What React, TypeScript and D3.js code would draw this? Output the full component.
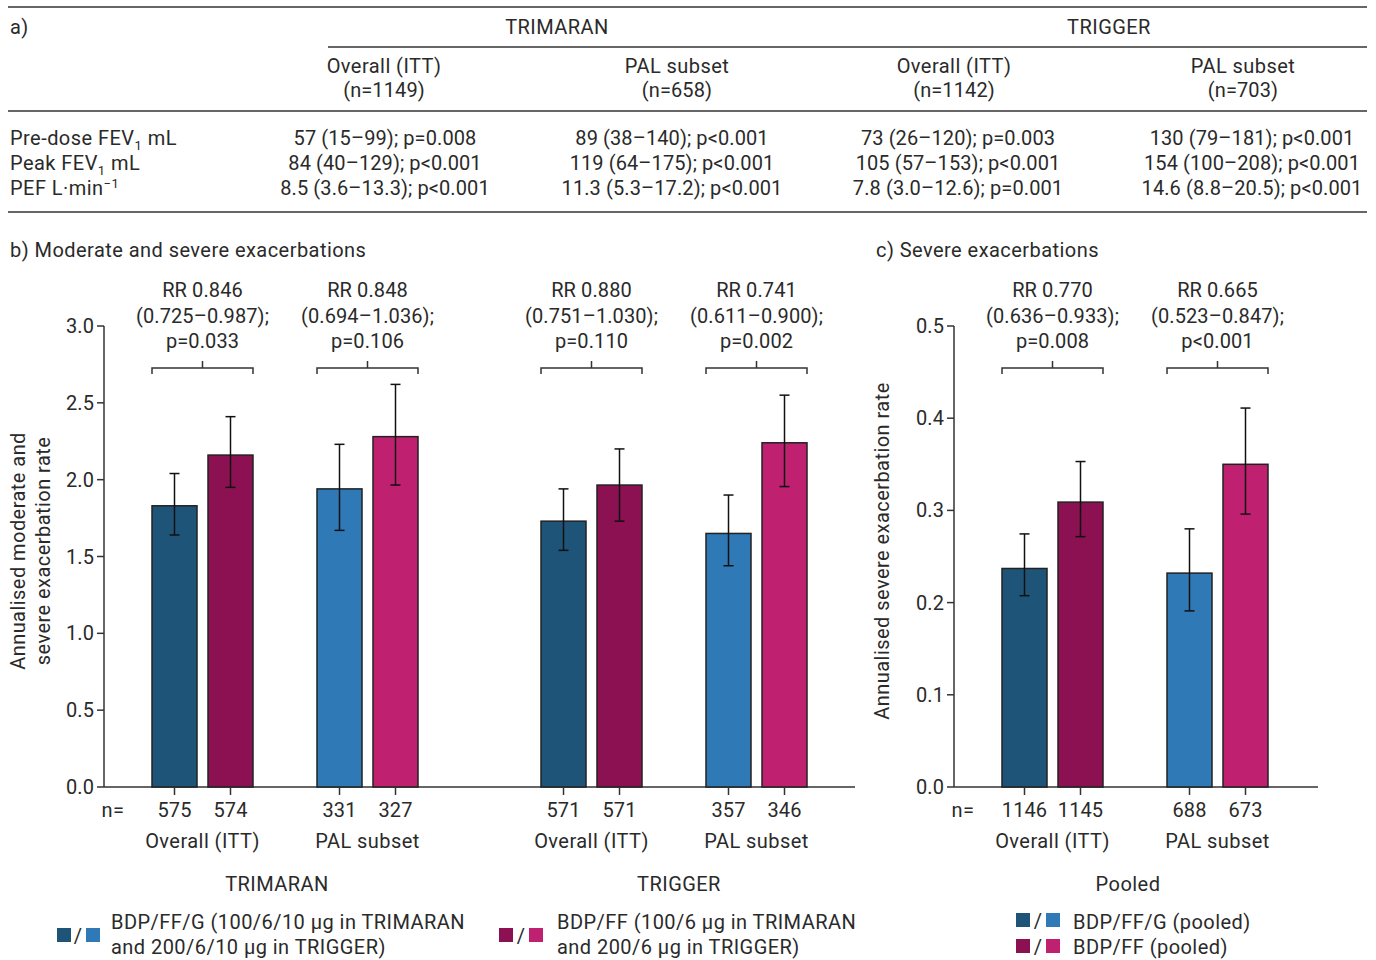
import React from "react";
import * as d3 from "d3";

// ---------- DATA ----------
const studies = ["TRIMARAN", "TRIGGER"];
const subsets = ["Overall (ITT)", "PAL subset"];
const tableCols = ["Overall (ITT)", "PAL subset", "Overall (ITT)", "PAL subset"];
const tableNs = ["(n=1149)", "(n=658)", "(n=1142)", "(n=703)"];
const rowPreDose = ["57 (15–99); p=0.008", "89 (38–140); p<0.001", "73 (26–120); p=0.003", "130 (79–181); p<0.001"];
const rowPeak = ["84 (40–129); p<0.001", "119 (64–175); p<0.001", "105 (57–153); p<0.001", "154 (100–208); p<0.001"];
const rowPEF = ["8.5 (3.6–13.3); p<0.001", "11.3 (5.3–17.2); p<0.001", "7.8 (3.0–12.6); p=0.001", "14.6 (8.8–20.5); p<0.001"];

// Panel b: order = TRIMARAN ITT, TRIMARAN PAL, TRIGGER ITT, TRIGGER PAL
const tripleRateB = [1.83, 1.94, 1.73, 1.65];
const tripleLoB = [1.64, 1.67, 1.54, 1.44];
const tripleHiB = [2.04, 2.23, 1.94, 1.9];
const dualRateB = [2.16, 2.28, 1.965, 2.24];
const dualLoB = [1.95, 1.965, 1.73, 1.955];
const dualHiB = [2.41, 2.62, 2.2, 2.55];
const nTripleB = [575, 331, 571, 357];
const nDualB = [574, 327, 571, 346];
const rrB = ["RR 0.846", "RR 0.848", "RR 0.880", "RR 0.741"];
const ciB = ["(0.725–0.987);", "(0.694–1.036);", "(0.751–1.030);", "(0.611–0.900);"];
const pB = ["p=0.033", "p=0.106", "p=0.110", "p=0.002"];
const ticksB = [0, 0.5, 1.0, 1.5, 2.0, 2.5, 3.0];

// Panel c: order = ITT, PAL (pooled)
const tripleRateC = [0.237, 0.232];
const tripleLoC = [0.2075, 0.191];
const tripleHiC = [0.2745, 0.28];
const dualRateC = [0.309, 0.35];
const dualLoC = [0.2715, 0.296];
const dualHiC = [0.353, 0.411];
const nTripleC = [1146, 688];
const nDualC = [1145, 673];
const rrC = ["RR 0.770", "RR 0.665"];
const ciC = ["(0.636–0.933);", "(0.523–0.847);"];
const pC = ["p=0.008", "p<0.001"];
const ticksC = [0, 0.1, 0.2, 0.3, 0.4, 0.5];

// ---------- STYLE ----------
const FONT = "Roboto, 'Noto Sans', sans-serif";
const TXT = "#2a2a2a";
const AX = "#333";
const C_TRIPLE = ["#1f5479", "#2e79b6"];
const C_DUAL = ["#8b1152", "#c02070"];

const W = 1376;
const H = 960;

const base = 787;
const top = 326;
const yB = d3.scaleLinear().domain([0, 3]).range([base, top]);
const yC = d3.scaleLinear().domain([0, 0.5]).range([base, top]);

const studyX = d3.scaleLinear().domain([0, 1]).range([285, 674]);
const subsetOff = 165;
const trtOff = 56;
const barW = 45;

function groupCenterB(i: number) {
  const s = Math.floor(i / 2);
  const g = i % 2;
  return studyX(s) + (g - 0.5) * subsetOff;
}
function groupCenterC(i: number) {
  return 1135 + (i - 0.5) * subsetOff;
}

// word text (slightly wider tracking) and numeric text
function T(props: any) {
  return <text fontFamily={FONT} fontSize={20} fill={TXT} letterSpacing={0.45} {...props} />;
}
function N(props: any) {
  return <text fontFamily={FONT} fontSize={20} fill={TXT} letterSpacing={0.1} {...props} />;
}

function Bars({ centers, y, rates, los, his, colorIdx, trt }: any) {
  return (
    <g>
      {rates.map((v: number, i: number) => {
        const cx = centers(i) + (trt - 0.5) * trtOff;
        const color = trt === 0 ? C_TRIPLE[colorIdx(i)] : C_DUAL[colorIdx(i)];
        return (
          <g key={i}>
            <rect x={cx - barW / 2} y={y(v)} width={barW} height={y(0) - y(v)} fill={color} stroke="#222" strokeWidth={1.5} />
            <line x1={cx} x2={cx} y1={y(his[i])} y2={y(los[i])} stroke="#111" strokeWidth={1.5} />
            <line x1={cx - 5} x2={cx + 5} y1={y(his[i])} y2={y(his[i])} stroke="#111" strokeWidth={1.5} />
            <line x1={cx - 5} x2={cx + 5} y1={y(los[i])} y2={y(los[i])} stroke="#111" strokeWidth={1.5} />
            <line x1={cx} x2={cx} y1={y(0)} y2={y(0) + 8} stroke={AX} strokeWidth={1.5} />
          </g>
        );
      })}
    </g>
  );
}

function Annot({ centers, rr, ci, p }: any) {
  return (
    <g>
      {rr.map((r: string, i: number) => {
        const cx = centers(i);
        const l = cx - trtOff / 2 - barW / 2;
        const rgt = cx + trtOff / 2 + barW / 2;
        return (
          <g key={i}>
            <N x={cx} y={297} textAnchor="middle">{r}</N>
            <N x={cx} y={323} textAnchor="middle">{ci[i]}</N>
            <N x={cx} y={348} textAnchor="middle">{p[i]}</N>
            <path d={`M${l},374V368H${rgt}V374M${cx},368V361`} fill="none" stroke={AX} strokeWidth={1.5} />
          </g>
        );
      })}
    </g>
  );
}

function YAxis({ x, y, ticks, fmt }: any) {
  return (
    <g>
      <line x1={x} x2={x} y1={y(ticks[ticks.length - 1])} y2={y(0)} stroke={AX} strokeWidth={1.5} />
      {ticks.map((t: number) => (
        <g key={t}>
          <line x1={x - 7} x2={x} y1={y(t)} y2={y(t)} stroke={AX} strokeWidth={1.5} />
          <N x={x - 10} y={y(t) + 7} textAnchor="end">{fmt(t)}</N>
        </g>
      ))}
    </g>
  );
}

export default function App() {
  const colCenters = [385, 672, 958, 1252];
  const hdrCenters = [384, 677, 954, 1243];
  const fmt1 = d3.format(".1f");
  const idxB = (i: number) => i % 2;
  const idxC = (i: number) => i;
  return (
    <svg width={W} height={H} style={{ display: "block", position: "absolute", left: 0, top: 0 }}>
      <rect width={W} height={H} fill="#fff" />
      {/* ---------- Table a ---------- */}
      <line x1={8} x2={1367} y1={7} y2={7} stroke={AX} strokeWidth={1.5} />
      <T x={10} y={34}>a)</T>
      <T x={557} y={34} textAnchor="middle">{studies[0]}</T>
      <T x={1109} y={34} textAnchor="middle">{studies[1]}</T>
      <line x1={328} x2={1367} y1={47} y2={47} stroke={AX} strokeWidth={1.5} />
      {tableCols.map((c, i) => (
        <g key={i}>
          <T x={hdrCenters[i]} y={73} textAnchor="middle">{c}</T>
          <N x={hdrCenters[i]} y={97} textAnchor="middle">{tableNs[i]}</N>
        </g>
      ))}
      <line x1={8} x2={1367} y1={111} y2={111} stroke={AX} strokeWidth={1.5} />
      <T x={10} y={145}>Pre-dose FEV<tspan fontSize={13} dy={5}>1</tspan><tspan dy={-5}> mL</tspan></T>
      <T x={10} y={170}>Peak FEV<tspan fontSize={13} dy={5}>1</tspan><tspan dy={-5}> mL</tspan></T>
      <T x={10} y={195}>PEF L·min<tspan fontSize={13} dy={-7}>−1</tspan></T>
      {[rowPreDose, rowPeak, rowPEF].map((row, r) =>
        row.map((v, i) => (
          <N key={`${r}-${i}`} x={colCenters[i]} y={145 + r * 25} textAnchor="middle">{v}</N>
        ))
      )}
      <line x1={8} x2={1367} y1={212} y2={212} stroke={AX} strokeWidth={1.5} />

      {/* ---------- Panel b ---------- */}
      <T x={10} y={257}>b) Moderate and severe exacerbations</T>
      <T transform="translate(25,551) rotate(-90)" textAnchor="middle">Annualised moderate and</T>
      <T transform="translate(50,551) rotate(-90)" textAnchor="middle">severe exacerbation rate</T>
      <YAxis x={104} y={yB} ticks={ticksB} fmt={fmt1} />
      <line x1={104} x2={855} y1={base} y2={base} stroke={AX} strokeWidth={1.5} />
      <Annot centers={groupCenterB} rr={rrB} ci={ciB} p={pB} />
      <Bars centers={groupCenterB} y={yB} rates={tripleRateB} los={tripleLoB} his={tripleHiB} colorIdx={idxB} trt={0} />
      <Bars centers={groupCenterB} y={yB} rates={dualRateB} los={dualLoB} his={dualHiB} colorIdx={idxB} trt={1} />
      <T x={113} y={817} textAnchor="middle">n=</T>
      {nTripleB.map((n, i) => (
        <g key={i}>
          <N x={groupCenterB(i) - trtOff / 2} y={817} textAnchor="middle">{n}</N>
          <N x={groupCenterB(i) + trtOff / 2} y={817} textAnchor="middle">{nDualB[i]}</N>
          <T x={groupCenterB(i)} y={848} textAnchor="middle">{subsets[i % 2]}</T>
        </g>
      ))}
      <T x={277} y={891} textAnchor="middle">{studies[0]}</T>
      <T x={679} y={891} textAnchor="middle">{studies[1]}</T>

      {/* ---------- Panel c ---------- */}
      <T x={876} y={257}>c) Severe exacerbations</T>
      <T transform="translate(889,551) rotate(-90)" textAnchor="middle">Annualised severe exacerbation rate</T>
      <YAxis x={954} y={yC} ticks={ticksC} fmt={fmt1} />
      <line x1={954} x2={1318} y1={base} y2={base} stroke={AX} strokeWidth={1.5} />
      <Annot centers={groupCenterC} rr={rrC} ci={ciC} p={pC} />
      <Bars centers={groupCenterC} y={yC} rates={tripleRateC} los={tripleLoC} his={tripleHiC} colorIdx={idxC} trt={0} />
      <Bars centers={groupCenterC} y={yC} rates={dualRateC} los={dualLoC} his={dualHiC} colorIdx={idxC} trt={1} />
      <T x={963} y={817} textAnchor="middle">n=</T>
      {nTripleC.map((n, i) => (
        <g key={i}>
          <N x={groupCenterC(i) - trtOff / 2} y={817} textAnchor="middle">{n}</N>
          <N x={groupCenterC(i) + trtOff / 2} y={817} textAnchor="middle">{nDualC[i]}</N>
          <T x={groupCenterC(i)} y={848} textAnchor="middle">{subsets[i]}</T>
        </g>
      ))}
      <T x={1128} y={891} textAnchor="middle">Pooled</T>

      {/* ---------- Legends ---------- */}
      <rect x={57} y={928} width={14} height={14} fill={C_TRIPLE[0]} />
      <T x={78} y={943} textAnchor="middle">/</T>
      <rect x={86} y={928} width={14} height={14} fill={C_TRIPLE[1]} />
      <T x={111} y={929}>BDP/FF/G (100/6/10 µg in TRIMARAN</T>
      <T x={111} y={954}>and 200/6/10 µg in TRIGGER)</T>

      <rect x={499} y={928} width={14} height={14} fill={C_DUAL[0]} />
      <T x={521} y={943} textAnchor="middle">/</T>
      <rect x={529} y={928} width={14} height={14} fill={C_DUAL[1]} />
      <T x={557} y={929}>BDP/FF (100/6 µg in TRIMARAN</T>
      <T x={557} y={954}>and 200/6 µg in TRIGGER)</T>

      <rect x={1016} y={913} width={14} height={14} fill={C_TRIPLE[0]} />
      <T x={1038} y={928} textAnchor="middle">/</T>
      <rect x={1046} y={913} width={14} height={14} fill={C_TRIPLE[1]} />
      <T x={1073} y={929}>BDP/FF/G (pooled)</T>
      <rect x={1016} y={939} width={14} height={14} fill={C_DUAL[0]} />
      <T x={1038} y={954} textAnchor="middle">/</T>
      <rect x={1046} y={939} width={14} height={14} fill={C_DUAL[1]} />
      <T x={1073} y={954}>BDP/FF (pooled)</T>
    </svg>
  );
}
